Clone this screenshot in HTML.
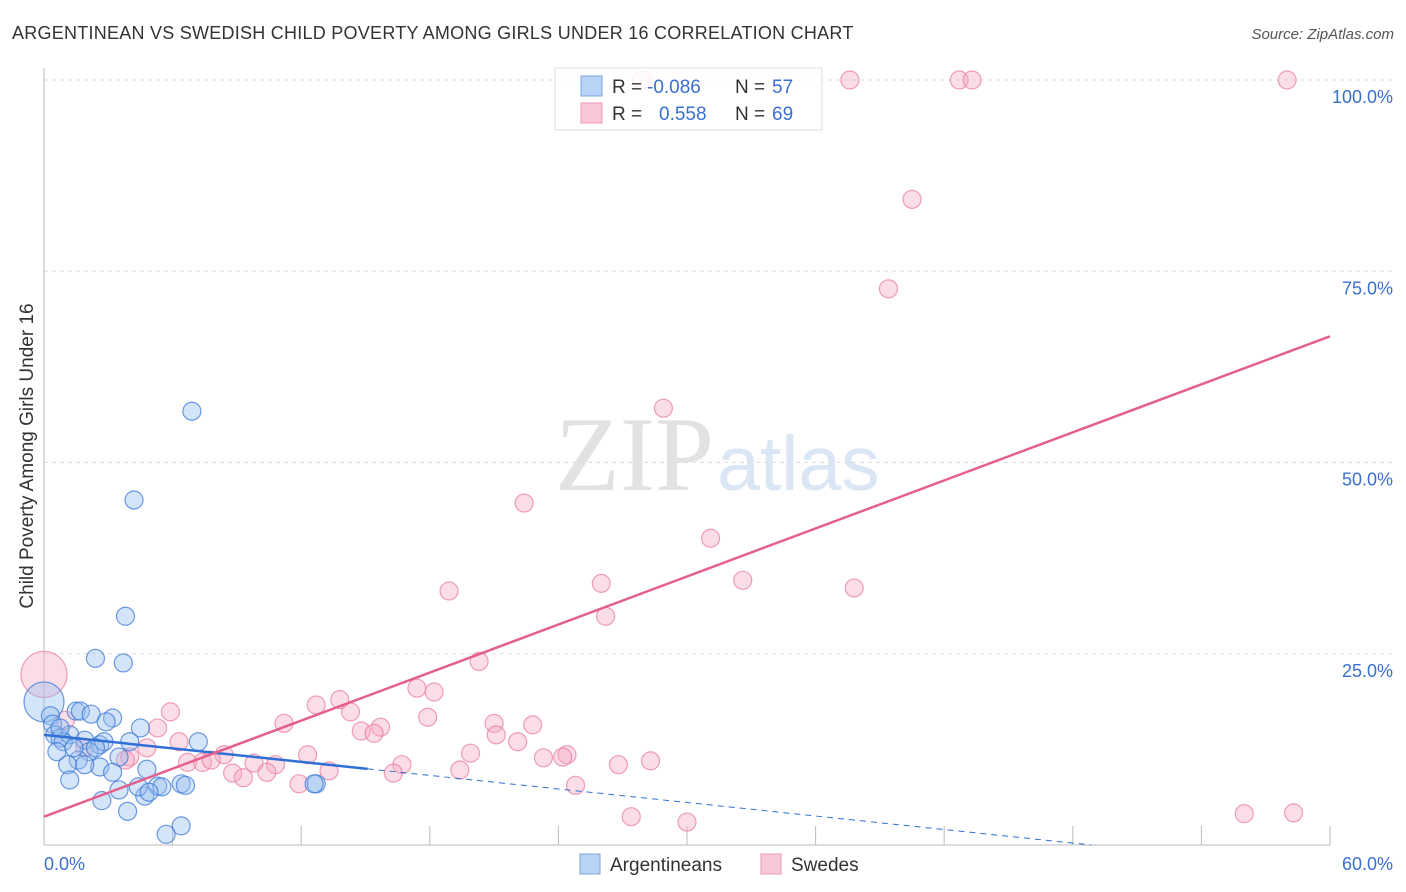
<!DOCTYPE html>
<html><head><meta charset="utf-8">
<style>
body{margin:0;background:#fff;font-family:"Liberation Sans",sans-serif;}
#wrap{position:relative;width:1406px;height:892px;overflow:hidden;}
</style></head>
<body>
<div id="wrap">
<svg id="svg" width="1406" height="892" xmlns="http://www.w3.org/2000/svg">
<text x="12" y="39" font-size="18" fill="#333" letter-spacing="0.25">ARGENTINEAN VS SWEDISH CHILD POVERTY AMONG GIRLS UNDER 16 CORRELATION CHART</text>
<text x="1394" y="39" font-size="15" fill="#555" font-style="italic" text-anchor="end">Source: ZipAtlas.com</text>
<text x="555" y="490" font-size="106" fill="#e2e2e2" font-family="Liberation Serif,serif">ZIP</text>
<text x="717" y="490" font-size="77" fill="#dbe6f5">atlas</text>
<text transform="translate(33,456) rotate(-90)" font-size="19" fill="#333" text-anchor="middle">Child Poverty Among Girls Under 16</text>
<g id="grid"></g><g id="pts"></g><g id="trend"></g>
<g>
<rect x="555" y="68" width="267" height="62" fill="#fff" fill-opacity="0.85" stroke="#ddd"/>
<rect x="581" y="76" width="21" height="20" fill="#b8d3f5" stroke="#7aa7e0"/>
<rect x="581" y="103" width="21" height="20" fill="#f9c8d6" stroke="#ee9ab4"/>
<text x="612" y="93" font-size="19" fill="#333">R =</text>
<text x="647" y="93" font-size="19" fill="#3a6fd0">-0.086</text>
<text x="735" y="93" font-size="19" fill="#333">N =</text>
<text x="772" y="93" font-size="19" fill="#3a6fd0">57</text>
<text x="612" y="120" font-size="19" fill="#333">R =</text>
<text x="659" y="120" font-size="19" fill="#3a6fd0">0.558</text>
<text x="735" y="120" font-size="19" fill="#333">N =</text>
<text x="772" y="120" font-size="19" fill="#3a6fd0">69</text>
</g>
<g>
<rect x="580" y="854" width="20" height="20" fill="#b8d3f5" stroke="#7aa7e0"/>
<text x="610" y="871" font-size="19" fill="#333">Argentineans</text>
<rect x="761" y="854" width="20" height="20" fill="#f9c8d6" stroke="#ee9ab4"/>
<text x="791" y="871" font-size="19" fill="#333">Swedes</text>
</g>
</svg>
</div>
<script>
const xTicks=[0,6,12,18,24,30,36,42,48,54,60];
const yTicks=[25,50,75,100];
const yTickLabels=["25.0%","50.0%","75.0%","100.0%"];
const xEndLabels=["0.0%","60.0%"];
const blueX=[6.9,4.2,3.8,2.4,3.7,1.5,1.7,2.2,3.2,2.9,0.3,0.4,4.5,7.2,0.5,0.75,1.2,1.9,2.6,2.8,0.9,0.6,2.1,2.4,3.5,1.6,1.1,2.6,1.9,4.8,3.2,1.2,6.4,6.6,5.3,5.5,3.5,12.7,12.6,4.7,2.7,3.9,6.4,5.7,4.4,4.9,0.75,4.0,1.4];
const blueY=[56.7,45.1,29.9,24.4,23.8,17.5,17.5,17.1,16.6,16.1,16.9,15.8,15.3,13.5,14.4,14.0,14.4,13.7,13.1,13.5,13.5,12.2,12.2,12.7,11.5,11.1,10.5,10.2,10.5,9.9,9.5,8.5,8.0,7.8,7.7,7.6,7.2,8.0,8.0,6.4,5.8,4.4,2.5,1.4,7.6,6.9,15.3,13.5,12.7];
const pinkX=[27.9,37.6,42.7,43.3,58.0,40.5,39.4,28.9,22.4,31.1,18.9,26.0,32.6,37.8,26.2,20.3,17.4,18.2,13.8,12.7,5.9,14.3,17.9,11.2,21.0,22.8,15.7,5.3,14.8,15.4,21.1,1.0,6.3,22.1,4.8,1.9,12.3,19.9,24.4,24.2,8.4,4.0,23.3,3.8,6.7,7.4,7.8,9.8,10.8,16.7,28.3,26.8,8.8,10.4,13.3,16.3,19.4,9.3,11.9,24.8,27.4,30.0,56.0,58.3];
const pinkY=[100,100,100,100,100,84.4,72.7,57.1,44.7,40.1,33.2,34.2,34.6,33.6,29.9,24.0,20.5,20.0,19.0,18.3,17.4,17.4,16.7,15.9,15.9,15.7,15.4,15.3,14.9,14.6,14.4,16.3,13.5,13.5,12.7,12.7,11.8,12.0,11.8,11.5,11.8,11.5,11.4,11.1,10.8,10.8,11.1,10.7,10.5,10.5,11.0,10.5,9.4,9.5,9.7,9.4,9.8,8.8,8.0,7.8,3.7,3.0,4.1,4.2];
const bigBlue=[0,18.7], bigPink=[0,22.3];
const blueTrend=[14.4,9.95,15.1], pinkTrend=[3.7,66.5];
const NS="http://www.w3.org/2000/svg";
const X=v=>44+v/60*1286, Y=v=>845-v/100*765;
function mk(t,a,p){const e=document.createElementNS(NS,t);for(const k in a)e.setAttribute(k,a[k]);p.appendChild(e);return e;}
const g=document.getElementById('grid');
yTicks.forEach((t,i)=>{
 const l=mk('line',{x1:44,x2:1394,y1:Y(t),y2:Y(t),stroke:'#ddd','stroke-dasharray':'4,4'},g);
 
 
 const tx=mk('text',{x:1393,y:Y(t)+23,'font-size':18,fill:'#3a6fd0','text-anchor':'end'},g);
 tx.textContent=yTickLabels[i];
 
 
});
const ax=mk('line',{x1:44,x2:44,y1:68,y2:845,stroke:'#bbb'},g);


const bx=mk('line',{x1:44,x2:1330,y1:845,y2:845,stroke:'#bbb'},g);


xTicks.forEach(t=>{const l=mk('line',{x1:X(t),x2:X(t),y1:826,y2:845,stroke:'#bbb'},g);
 
 });
const l0=mk('text',{x:44,y:870,'font-size':18,fill:'#3a6fd0'},g);l0.textContent=xEndLabels[0];


const l1=mk('text',{x:1393,y:870,'font-size':18,fill:'#3a6fd0','text-anchor':'end'},g);l1.textContent=xEndLabels[1];


const p=document.getElementById('pts');
function dot(x,y,r,pink){const c=mk('circle',{cx:X(x),cy:Y(y),r:r,fill:pink?'rgba(246,170,195,0.4)':'rgba(150,190,240,0.4)',stroke:pink?'rgba(232,120,155,0.7)':'rgba(60,120,215,0.75)','stroke-width':1.2},p);
 
 }
dot(bigPink[0],bigPink[1],23,true);
pinkX.forEach((x,i)=>dot(x,pinkY[i],9,true));
dot(bigBlue[0],bigBlue[1],20,false);
blueX.forEach((x,i)=>dot(x,blueY[i],9,false));
const tr=document.getElementById('trend');
const slopeB=(blueTrend[1]-blueTrend[0])/blueTrend[2];
const b1=mk('line',{x1:X(0),y1:Y(blueTrend[0]),x2:X(blueTrend[2]),y2:Y(blueTrend[1]),stroke:'#2f6fd6','stroke-width':2.5},tr);


const xEnd=-blueTrend[0]/slopeB;
const b2=mk('line',{x1:X(blueTrend[2]),y1:Y(blueTrend[1]),x2:X(xEnd),y2:Y(0),stroke:'#2f6fd6','stroke-width':1,'stroke-dasharray':'6,5'},tr);


const pl=mk('line',{x1:X(0),y1:Y(pinkTrend[0]),x2:X(60),y2:Y(pinkTrend[1]),stroke:'#e4608c','stroke-width':2.5},tr);


</script>
</body></html>
